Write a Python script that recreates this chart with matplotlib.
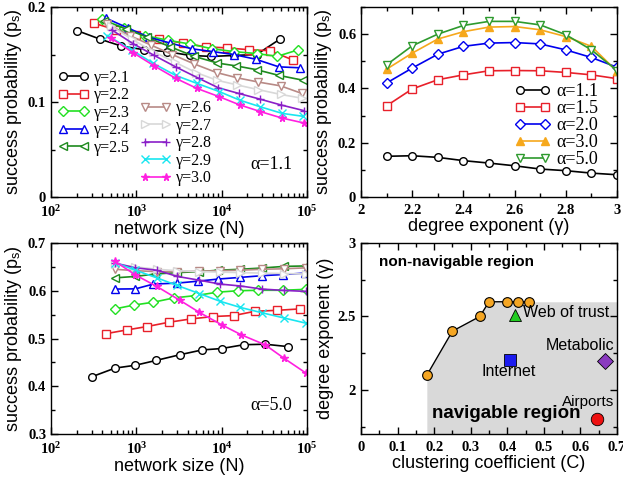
import numpy as np
import matplotlib
matplotlib.use('Agg')
import matplotlib.pyplot as plt
from matplotlib.ticker import MultipleLocator, LogLocator, NullFormatter

plt.rcParams['font.family'] = ['Liberation Serif', 'DejaVu Serif']
plt.rcParams['font.weight'] = 'bold'
plt.rcParams['mathtext.fontset'] = 'custom'
plt.rcParams['mathtext.rm'] = 'Liberation Serif:bold'
plt.rcParams['mathtext.it'] = 'Liberation Serif:italic'
plt.rcParams['mathtext.bf'] = 'Liberation Serif:bold'

# ---- panel (a): success probability vs N, alpha = 1.1 (log10 N)
gammas = ['2.1', '2.2', '2.3', '2.4', '2.5', '2.6', '2.7', '2.8', '2.9', '3.0']
logN_a = [
    [2.31, 2.58, 2.82, 3.09, 3.36, 3.63, 3.88, 4.15, 4.41, 4.68],
    [2.50, 2.76, 3.00, 3.27, 3.55, 3.82, 4.06, 4.32, 4.57, 4.84],
    [2.60, 2.85, 3.10, 3.37, 3.63, 3.89, 4.15, 4.41, 4.65, 4.90],
    [2.65, 2.90, 3.15, 3.40, 3.65, 3.90, 4.14, 4.40, 4.67, 4.92],
    [2.62, 2.88, 3.13, 3.40, 3.68, 3.95, 4.17, 4.41, 4.67, 4.95],
    [2.66, 2.92, 3.17, 3.42, 3.68, 3.94, 4.18, 4.43, 4.69, 4.94],
    [2.70, 2.95, 3.20, 3.45, 3.70, 3.94, 4.18, 4.43, 4.69, 4.94],
    [2.71, 2.96, 3.21, 3.46, 3.73, 3.96, 4.20, 4.45, 4.69, 4.96],
    [2.66, 2.95, 3.20, 3.46, 3.71, 3.97, 4.21, 4.45, 4.71, 4.95],
    [2.70, 2.96, 3.21, 3.46, 3.71, 3.97, 4.21, 4.45, 4.71, 4.96],
]
ps_a = [
    [0.175, 0.166, 0.159, 0.155, 0.153, 0.149, 0.148, 0.149, 0.150, 0.166],
    [0.183, 0.176, 0.171, 0.166, 0.162, 0.158, 0.157, 0.155, 0.154, 0.144],
    [0.187, 0.178, 0.170, 0.165, 0.161, 0.156, 0.153, 0.151, 0.148, 0.155],
    [0.188, 0.178, 0.168, 0.162, 0.156, 0.153, 0.150, 0.145, 0.137, 0.136],
    [0.185, 0.177, 0.168, 0.158, 0.148, 0.141, 0.138, 0.134, 0.128, 0.123],
    [0.182, 0.170, 0.160, 0.150, 0.140, 0.131, 0.1255, 0.121, 0.117, 0.109],
    [0.180, 0.166, 0.153, 0.142, 0.131, 0.123, 0.118, 0.113, 0.108, 0.104],
    [0.176, 0.1615, 0.149, 0.137, 0.125, 0.115, 0.109, 0.103, 0.097, 0.091],
    [0.170, 0.1545, 0.1406, 0.128, 0.1196, 0.111, 0.102, 0.095, 0.088, 0.085],
    [0.1675, 0.152, 0.138, 0.125, 0.1143, 0.1056, 0.097, 0.090, 0.083, 0.078],
]

# ---- panel (c): success probability vs N, alpha = 5.0
logN_c = [
    [2.48, 2.75, 2.99, 3.23, 3.51, 3.77, 4.00, 4.26, 4.51, 4.78],
    [2.64, 2.89, 3.125, 3.38, 3.64, 3.90, 4.14, 4.39, 4.65, 4.92],
    [2.75, 2.97, 3.20, 3.44, 3.70, 3.95, 4.19, 4.43, 4.72, 4.99],
    [2.75, 2.99, 3.20, 3.48, 3.72, 3.96, 4.22, 4.47, 4.72, 4.98],
    [2.75, 2.99, 3.22, 3.48, 3.74, 3.96, 4.22, 4.47, 4.73, 4.99],
    [2.75, 2.99, 3.24, 3.48, 3.74, 3.98, 4.22, 4.47, 4.73, 4.99],
    [2.75, 2.99, 3.24, 3.48, 3.74, 3.98, 4.22, 4.47, 4.73, 4.99],
    [2.75, 2.99, 3.24, 3.48, 3.74, 3.98, 4.22, 4.47, 4.73, 4.99],
    [2.75, 2.99, 3.24, 3.48, 3.74, 3.98, 4.22, 4.47, 4.73, 4.99],
    [2.75, 2.99, 3.24, 3.51, 3.74, 4.00, 4.23, 4.51, 4.73, 4.99],
]
ps_c = [
    [0.420, 0.438, 0.444, 0.454, 0.466, 0.476, 0.479, 0.487, 0.488, 0.483],
    [0.510, 0.518, 0.525, 0.534, 0.541, 0.546, 0.548, 0.557, 0.559, 0.562],
    [0.562, 0.570, 0.576, 0.585, 0.590, 0.597, 0.600, 0.601, 0.601, 0.603],
    [0.6035, 0.604, 0.614, 0.616, 0.620, 0.6245, 0.628, 0.6315, 0.634, 0.637],
    [0.627, 0.630, 0.635, 0.638, 0.640, 0.643, 0.645, 0.6476, 0.651, 0.652],
    [0.645, 0.642, 0.640, 0.640, 0.641, 0.642, 0.643, 0.645, 0.646, 0.648],
    [0.655, 0.650, 0.645, 0.642, 0.640, 0.639, 0.638, 0.637, 0.636, 0.635],
    [0.658, 0.648, 0.643, 0.630, 0.622, 0.614, 0.610, 0.6035, 0.6007, 0.5986],
    [0.659, 0.643, 0.627, 0.611, 0.594, 0.578, 0.565, 0.554, 0.543, 0.532],
    [0.6615, 0.633, 0.609, 0.580, 0.5545, 0.5287, 0.5077, 0.4867, 0.4587, 0.4273],
]

# ---- panel (b): success probability vs gamma
gamma_b = [2.1, 2.2, 2.3, 2.4, 2.5, 2.6, 2.7, 2.8, 2.9, 3.0]
alphas = ['1.1', '1.5', '2.0', '3.0', '5.0']
ps_b = [
    [0.150, 0.152, 0.146, 0.134, 0.125, 0.115, 0.103, 0.097, 0.088, 0.082],
    [0.336, 0.398, 0.432, 0.450, 0.465, 0.466, 0.465, 0.459, 0.450, 0.436],
    [0.420, 0.475, 0.526, 0.555, 0.567, 0.569, 0.564, 0.542, 0.514, 0.478],
    [0.471, 0.530, 0.582, 0.609, 0.626, 0.628, 0.616, 0.591, 0.555, 0.463],
    [0.487, 0.557, 0.600, 0.632, 0.647, 0.647, 0.634, 0.598, 0.542, 0.466],
]

# ---- panel (d): navigability phase diagram
C_border = [0.18, 0.25, 0.325, 0.35, 0.40, 0.43, 0.46]
g_border = [2.1, 2.4, 2.5, 2.6, 2.6, 2.6, 2.6]
nets = ['Web of trust', 'Internet', 'Metabolic', 'Airports']
C_nets = [0.422, 0.407, 0.668, 0.645]
g_nets = [2.51, 2.205, 2.20, 1.80]

g_colors = ['black', '#e8202a', '#22e022', '#0000ee', '#1e8a1e',
            '#b88a86', '#d8d8d8', '#8a1fc8', '#19e6f0', '#ff20e0']
g_markers = ['o', 's', 'D', '^', '<', 'v', '>', '+', 'x', '*']
a_colors = ['black', '#e8202a', '#0000ee', '#f6a81c', '#2e9a2e']
a_markers = ['o', 's', 'D', '^', 'v']

sans = 'Liberation Sans'
lab_fs = 13
tick_fs = 10.5
leg_font = {'family': 'Liberation Serif', 'weight': 'normal', 'size': 11.5}


def style(ax):
    ax.tick_params(which='both', direction='in', top=True, right=True,
                   labelsize=tick_fs, width=1)
    ax.tick_params(which='major', length=5)
    ax.tick_params(which='minor', length=3)
    ax.tick_params(axis='x', which='both', pad=5)
    for s in ax.spines.values():
        s.set_linewidth(1)


def open_mk(m):
    return m not in ('+', 'x', '*')


fig = plt.figure(figsize=(6.23, 4.83), dpi=100)
W, H = 623.0, 483.0
ax1 = fig.add_axes([51 / W, 1 - 197 / H, 256 / W, 190 / H])
ax2 = fig.add_axes([361 / W, 1 - 197 / H, 256 / W, 190 / H])
ax3 = fig.add_axes([51 / W, 1 - 434 / H, 256 / W, 191 / H])
ax4 = fig.add_axes([361 / W, 1 - 434 / H, 256 / W, 191 / H])

ylab = 'success probability (p$_\\mathregular{s}$)'

# panel a
lines_a = []
for i, g in enumerate(gammas):
    N = 10 ** np.array(logN_a[i])
    ln, = ax1.plot(N, ps_a[i], color=g_colors[i], marker=g_markers[i], ms=5.5,
                   mfc='white' if open_mk(g_markers[i]) else g_colors[i],
                   mew=1, lw=1.2, label='\u03b3=' + g)
    lines_a.append(ln)
ax1.set_xscale('log')
ax1.set_xlim(1e2, 1e5)
ax1.set_ylim(0, 0.2)
ax1.set_yticks([0, 0.1, 0.2])
ax1.set_yticklabels(['0', '0.1', '0.2'])
ax1.yaxis.set_minor_locator(MultipleLocator(0.05))
ax1.xaxis.set_minor_locator(LogLocator(base=10, subs=np.arange(2, 10), numticks=10))
ax1.xaxis.set_minor_formatter(NullFormatter())
ax1.set_xlabel('network size (N)', family=sans, weight='normal', fontsize=lab_fs, labelpad=1)
ax1.set_ylabel(ylab, family=sans, weight='normal', fontsize=lab_fs, labelpad=3)
leg1 = ax1.legend(handles=lines_a[:5], loc='upper left', bbox_to_anchor=(0.03, 0.67),
                  frameon=False, prop=leg_font, numpoints=2, handlelength=1.9,
                  handletextpad=0.3, labelspacing=0.1, borderpad=0, borderaxespad=0)
ax1.add_artist(leg1)
ax1.legend(handles=lines_a[5:], loc='upper left', bbox_to_anchor=(0.35, 0.51),
           frameon=False, prop=leg_font, numpoints=2, handlelength=1.9,
           handletextpad=0.3, labelspacing=0.1, borderpad=0, borderaxespad=0)
ax1.text(0.86, 0.17, '\u03b1=1.1', transform=ax1.transAxes, fontsize=13,
         weight='normal', ha='center', va='center')
style(ax1)

# panel b
for i, a in enumerate(alphas):
    ax2.plot(gamma_b, ps_b[i], color=a_colors[i], marker=a_markers[i], ms=5.5,
             mfc=a_colors[i] if a == '3.0' else 'white', mew=1, lw=1.2,
             label='\u03b1=' + a)
ax2.set_xlim(2, 3)
ax2.set_ylim(0, 0.7)
ax2.xaxis.set_minor_locator(MultipleLocator(0.1))
ax2.yaxis.set_minor_locator(MultipleLocator(0.1))
ax2.set_xticks([2, 2.2, 2.4, 2.6, 2.8, 3])
ax2.set_xticklabels(['2', '2.2', '2.4', '2.6', '2.8', '3'])
ax2.set_yticks([0, 0.2, 0.4, 0.6])
ax2.set_yticklabels(['0', '0.2', '0.4', '0.6'])
ax2.set_xlabel('degree exponent (\u03b3)', family=sans, weight='normal', fontsize=lab_fs, labelpad=1)
ax2.set_ylabel(ylab, family=sans, weight='normal', fontsize=lab_fs, labelpad=3)
ax2.legend(loc='upper left', bbox_to_anchor=(0.6, 0.6), frameon=False,
           prop={'family': 'Liberation Serif', 'weight': 'normal', 'size': 13},
           numpoints=2, handlelength=2.0, handletextpad=0.3, labelspacing=0.0,
           borderpad=0, borderaxespad=0)
style(ax2)

# panel c
for i, g in enumerate(gammas):
    N = 10 ** np.array(logN_c[i])
    ax3.plot(N, ps_c[i], color=g_colors[i], marker=g_markers[i], ms=5.5,
             mfc='white' if open_mk(g_markers[i]) else g_colors[i],
             mew=1, lw=1.2)
ax3.set_xscale('log')
ax3.set_xlim(1e2, 1e5)
ax3.set_ylim(0.3, 0.7)
ax3.yaxis.set_minor_locator(MultipleLocator(0.05))
ax3.xaxis.set_minor_locator(LogLocator(base=10, subs=np.arange(2, 10), numticks=10))
ax3.xaxis.set_minor_formatter(NullFormatter())
ax3.set_yticks([0.3, 0.4, 0.5, 0.6, 0.7])
ax3.set_yticklabels(['0.3', '0.4', '0.5', '0.6', '0.7'])
ax3.set_xlabel('network size (N)', family=sans, weight='normal', fontsize=lab_fs, labelpad=1)
ax3.set_ylabel(ylab, family=sans, weight='normal', fontsize=lab_fs, labelpad=3)
ax3.text(0.86, 0.15, '\u03b1=5.0', transform=ax3.transAxes, fontsize=13,
         weight='normal', ha='center', va='center')
style(ax3)

# panel d
ylo = 1.7
ax4.fill_between(C_border + [0.7], [ylo] * (len(C_border) + 1), g_border + [2.6],
                 color='#d9d9d9', lw=0, zorder=0)
ax4.plot(C_border, g_border, color='black', lw=1, marker='o', ms=7,
         mfc='#f5a623', mec='black', mew=0.8, zorder=3)
ax4.plot(C_nets[0], g_nets[0], marker='^', ms=8, color='#22cc22', mec='black', mew=0.6, ls='none')
ax4.plot(C_nets[1], g_nets[1], marker='s', ms=8, color='#1a1aee', mec='black', mew=0.6, ls='none')
ax4.plot(C_nets[2], g_nets[2], marker='D', ms=8, color='#8a3ac0', mec='black', mew=0.6, ls='none')
ax4.plot(C_nets[3], g_nets[3], marker='o', ms=9, color='#ee1111', mec='black', mew=0.6, ls='none')
txt = dict(family=sans, weight='normal', fontsize=11.5, va='center')
ax4.text(C_nets[0] + 0.02, g_nets[0] + 0.02, nets[0], ha='left', **txt)
ax4.text(C_nets[1] - 0.004, g_nets[1] - 0.08, nets[1], ha='center', **txt)
ax4.text(0.60, 2.30, nets[2], ha='center', **txt)
ax4.text(0.622, 1.92, nets[3], ha='center', family=sans, weight='normal', fontsize=11, va='center')
ax4.text(0.048, 2.87, 'non-navigable region', family=sans, fontsize=11, fontweight='bold',
         ha='left', va='center')
ax4.text(0.194, 1.84, 'navigable region', family=sans, fontsize=13.5, fontweight='bold',
         ha='left', va='center')
ax4.set_xlim(0, 0.7)
ax4.set_ylim(ylo, 3)
ax4.xaxis.set_minor_locator(MultipleLocator(0.05))
ax4.set_yticks([2, 2.5, 3])
ax4.set_yticklabels(['2', '2.5', '3'])
ax4.yaxis.set_minor_locator(MultipleLocator(0.25))
ax4.set_xticks([0, 0.1, 0.2, 0.3, 0.4, 0.5, 0.6, 0.7])
ax4.set_xticklabels(['0', '0.1', '0.2', '0.3', '0.4', '0.5', '0.6', '0.7'])
ax4.set_xlabel('clustering coefficient (C)', family=sans, weight='normal', fontsize=lab_fs, labelpad=1)
ax4.set_ylabel('degree exponent (\u03b3)', family=sans, weight='normal', fontsize=lab_fs, labelpad=3)
style(ax4)

fig.savefig('out.png', dpi=100)
